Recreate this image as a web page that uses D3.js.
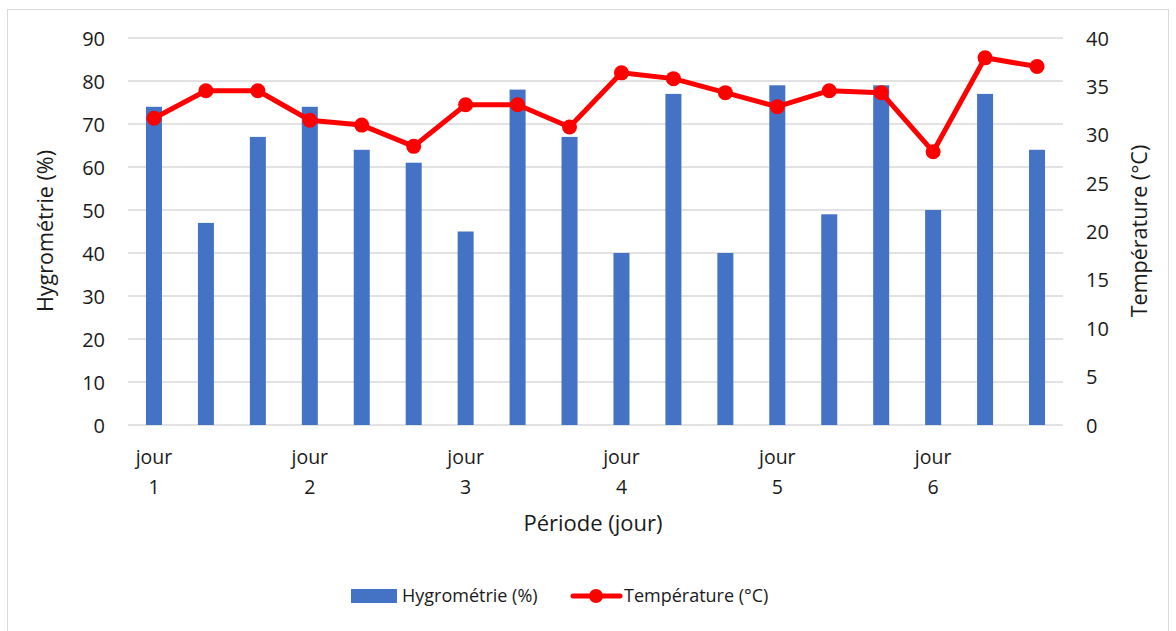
<!DOCTYPE html>
<html><head><meta charset="utf-8">
<script src="https://cdn.jsdelivr.net/npm/d3@7"></script>
<style>body{margin:0;background:#fff}svg text{font-family:"Open Sans","Noto Sans",sans-serif;fill:#1a1a1a}</style>
</head><body><svg id="c" width="1176" height="631"></svg>
<script>
const categories = ["jour 1","b","c","jour 2","e","f","jour 3","h","i","jour 4","k","l","jour 5","n","o","jour 6","q","r"];
const hygro = [74,47,67,74,64,61,45,78,67,40,77,40,79,49,79,50,77,64];
const temp = [31.7,34.55,34.55,31.5,31.0,28.8,33.1,33.1,30.8,36.4,35.8,34.35,32.9,34.55,34.35,28.25,37.95,37.05];
const leftTicks = [0,10,20,30,40,50,60,70,80,90];
const rightTicks = [0,5,10,15,20,25,30,35,40];
const idx = categories.map((d,i)=>i);

const svg = d3.select("#c");
svg.append("rect").attr("x",7.5).attr("y",9.5).attr("width",1161).attr("height",640)
  .attr("fill","none").attr("stroke","#d9d9d9");
const L=128, R=1063, T=38, B=425;
const x = d3.scaleBand().domain(idx).range([L,R]);
const yL = d3.scaleLinear().domain([0,90]).range([B,T]);
const yR = d3.scaleLinear().domain([0,40]).range([B,T]);

const g = svg.append("g");
g.selectAll(".grid").data(leftTicks).join("line")
  .attr("x1",L).attr("x2",R).attr("y1",d=>yL(d)).attr("y2",d=>yL(d))
  .attr("stroke","#d9d9d9").attr("stroke-width",1.5);

const bw=16;
g.selectAll(".bar").data(hygro).join("rect")
  .attr("x",(d,i)=>x(i)+x.bandwidth()/2-bw/2).attr("width",bw)
  .attr("y",d=>yL(d)).attr("height",d=>B-yL(d)).attr("fill","#4472C4");

const fs=20;
const axL = d3.axisLeft(yL).tickValues(leftTicks).tickSize(0).tickPadding(0);
const gl = svg.append("g").attr("transform",`translate(105,0)`).call(axL);
gl.select(".domain").remove();
gl.selectAll("text").style("font-size",fs+"px").attr("dy","0.35em");
const axR = d3.axisRight(yR).tickValues(rightTicks).tickSize(0).tickPadding(0);
const gr = svg.append("g").attr("transform",`translate(1086,0)`).call(axR);
gr.select(".domain").remove();
gr.selectAll("text").style("font-size",fs+"px").attr("dy","0.35em");

// x labels
const labeled = categories.map((c,i)=>({c,i})).filter(d=>d.c.startsWith("jour"));
labeled.forEach(d=>{
  const parts=d.c.split(" ");
  const cx=x(d.i)+x.bandwidth()/2;
  svg.append("text").attr("x",cx).attr("y",464).attr("text-anchor","middle").style("font-size","19.5px").text(parts[0]);
  svg.append("text").attr("x",cx).attr("y",494).attr("text-anchor","middle").style("font-size","19.5px").text(parts[1]);
});

// line
const line = d3.line().x((d,i)=>x(i)+x.bandwidth()/2).y(d=>yR(d));
svg.append("path").datum(temp).attr("d",line).attr("fill","none").attr("stroke","#FF0000")
  .attr("stroke-width",5).attr("stroke-linejoin","round");
svg.selectAll(".pt").data(temp).join("circle")
  .attr("cx",(d,i)=>x(i)+x.bandwidth()/2).attr("cy",d=>yR(d)).attr("r",7.5).attr("fill","#FF0000");

// titles
svg.append("text").attr("transform","translate(53,231) rotate(-90)").attr("text-anchor","middle").style("font-size","21.5px").text("Hygrométrie (%)");
svg.append("text").attr("transform","translate(1147,231) rotate(-90)").attr("text-anchor","middle").style("font-size","21.5px").text("Température (°C)");
svg.append("text").attr("x",593).attr("y",531).attr("text-anchor","middle").style("font-size","22px").text("Période (jour)");

// legend
svg.append("rect").attr("x",351).attr("y",589).attr("width",46).attr("height",14).attr("fill","#4472C4");
svg.append("text").attr("x",402).attr("y",596).attr("dy","0.35em").style("font-size","18px").text("Hygrométrie (%)");
svg.append("line").attr("x1",573).attr("x2",620).attr("y1",596).attr("y2",596).attr("stroke","#FF0000").attr("stroke-width",5).attr("stroke-linecap","round");
svg.append("circle").attr("cx",596).attr("cy",596).attr("r",7).attr("fill","#FF0000");
svg.append("text").attr("x",624).attr("y",596).attr("dy","0.35em").style("font-size","18px").text("Température (°C)");
</script></body></html>
